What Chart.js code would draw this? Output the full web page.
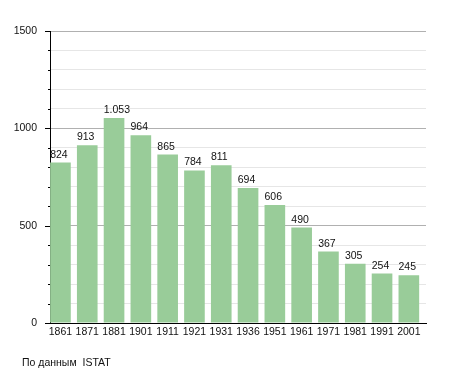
<!DOCTYPE html>
<html>
<head>
<meta charset="utf-8">
<script src="https://cdn.jsdelivr.net/npm/chart.js@4/dist/chart.umd.min.js"></script>
<style>
  html, body { margin: 0; padding: 0; background: #fff; }
  #wrap { width: 455px; height: 373px; position: relative; }
</style>
</head>
<body>
<div id="wrap"><canvas id="popChart" width="455" height="373"></canvas></div>
<script>
// census years and population
const years = ["1861", "1871", "1881", "1901", "1911", "1921", "1931", "1936", "1951", "1961", "1971", "1981", "1991", "2001"];
const population = [824, 913, 1053, 964, 865, 784, 811, 694, 606, 490, 367, 305, 254, 245];
const yMax = 1500;
const majorStep = 500;
const minorStep = 100;
const sourceNote = "По данным  ISTAT";

const FONT = "'Liberation Sans', Arial, sans-serif";
const FSIZE = 10.5;

function fmt(n) {
  return String(n).replace(/\B(?=(\d{3})+(?!\d))/g, ".");
}

// value labels, axis tick marks and footer
const extras = {
  id: "extras",
  afterDatasetsDraw(chart) {
    const ctx = chart.ctx;
    const meta = chart.getDatasetMeta(0);
    ctx.save();
    ctx.font = FSIZE + "px " + FONT;
    ctx.fillStyle = "#111";
    ctx.textAlign = "left";
    ctx.textBaseline = "alphabetic";
    meta.data.forEach((bar, i) => {
      ctx.fillText(fmt(population[i]), bar.x - bar.width / 2, bar.y - 5);
    });

    // tick marks on y axis
    const y = chart.scales.y;
    const left = chart.chartArea.left;
    ctx.strokeStyle = "#000";
    ctx.lineWidth = 1;
    for (let v = 0; v <= yMax; v += minorStep) {
      const py = Math.round(y.getPixelForValue(v)) + 0.5;
      const len = v % majorStep === 0 ? 5 : 2;
      ctx.beginPath();
      ctx.moveTo(left - len, py);
      ctx.lineTo(left, py);
      ctx.stroke();
    }

    ctx.fillText(sourceNote, 22, 366);
    ctx.restore();
  }
};

new Chart(document.getElementById("popChart"), {
  type: "bar",
  data: {
    datasets: [{
      data: population.map((v, i) => ({ x: i, y: v })),
      backgroundColor: "#99cc99",
      borderWidth: 0,
      barPercentage: 0.77,
      categoryPercentage: 1.0
    }]
  },
  options: {
    responsive: false,
    animation: false,
    layout: { padding: { left: 0, right: 29, top: 31, bottom: 30 } },
    plugins: {
      legend: { display: false },
      tooltip: { enabled: false }
    },
    scales: {
      x: {
        type: "linear",
        offset: false,
        min: -0.39,
        max: 13.64,
        afterBuildTicks: s => { s.ticks = years.map((_, i) => ({ value: i })); },
        afterFit: s => { s.height = 20; },
        grid: { display: false, drawTicks: false },
        border: { color: "#000", width: 1 },
        ticks: {
          color: "#111",
          font: { family: FONT, size: FSIZE },
          padding: 3,
          maxRotation: 0,
          autoSkip: false,
          callback: v => years[v] || ""
        }
      },
      y: {
        min: 0,
        max: yMax,
        afterFit: s => { s.width = 50; },
        border: { color: "#000", width: 1 },
        grid: {
          drawTicks: false,
          color: c => (c.tick && c.tick.value % majorStep === 0) ? "#b0b0b0" : "#e6e6e6",
          lineWidth: 1
        },
        ticks: {
          stepSize: minorStep,
          autoSkip: false,
          padding: 13,
          color: "#111",
          font: { family: FONT, size: FSIZE },
          callback: v => v % majorStep === 0 ? String(v) : ""
        }
      }
    }
  },
  plugins: [extras]
});
</script>
</body>
</html>
